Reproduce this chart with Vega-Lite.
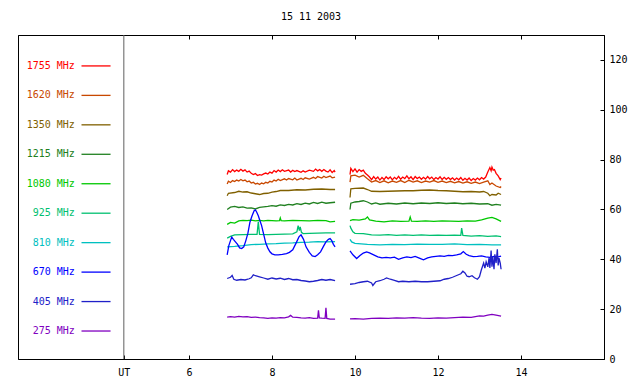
{
"$schema":"https://vega.github.io/schema/vega-lite/v6.json",
"width":586,"height":324,
"autosize":{"type":"none"},
"padding":{"left":18,"top":35,"right":36,"bottom":25},
"background":"white",
"title":{"text":"15 11 2003","font":"DejaVu Sans Mono","fontSize":10,"fontWeight":"normal","color":"black","offset":13,"anchor":"middle"},
"config":{"view":{"stroke":"black","strokeWidth":1},"axis":{"labelFont":"DejaVu Sans Mono","labelFontSize":10,"labelColor":"black","domainColor":"black","tickColor":"black","grid":false,"title":null}},
"datasets":{
"freqs":[{"f":"1755 MHz"},{"f":"1620 MHz"},{"f":"1350 MHz"},{"f":"1215 MHz"},{"f":"1080 MHz"},{"f":"925 MHz"},{"f":"810 MHz"},{"f":"670 MHz"},{"f":"405 MHz"},{"f":"275 MHz"}],
"ut":[{"t":4.43}],
"series":[
{"f":"1755 MHz","s":1,"t":6.92,"v":74.0},{"f":"1755 MHz","s":1,"t":6.95,"v":75.5},{"f":"1755 MHz","s":1,"t":7.0,"v":75.0},{"f":"1755 MHz","s":1,"t":7.05,"v":76.0},{"f":"1755 MHz","s":1,"t":7.1,"v":75.2},{"f":"1755 MHz","s":1,"t":7.15,"v":75.8},{"f":"1755 MHz","s":1,"t":7.2,"v":75.3},{"f":"1755 MHz","s":1,"t":7.25,"v":76.1},{"f":"1755 MHz","s":1,"t":7.3,"v":75.4},{"f":"1755 MHz","s":1,"t":7.35,"v":75.9},{"f":"1755 MHz","s":1,"t":7.4,"v":75.0},{"f":"1755 MHz","s":1,"t":7.45,"v":75.4},{"f":"1755 MHz","s":1,"t":7.5,"v":74.5},{"f":"1755 MHz","s":1,"t":7.55,"v":74.0},{"f":"1755 MHz","s":1,"t":7.6,"v":74.4},{"f":"1755 MHz","s":1,"t":7.65,"v":73.6},{"f":"1755 MHz","s":1,"t":7.7,"v":74.0},{"f":"1755 MHz","s":1,"t":7.75,"v":73.8},{"f":"1755 MHz","s":1,"t":7.8,"v":74.3},{"f":"1755 MHz","s":1,"t":7.85,"v":74.6},{"f":"1755 MHz","s":1,"t":7.9,"v":74.2},{"f":"1755 MHz","s":1,"t":7.95,"v":75.0},{"f":"1755 MHz","s":1,"t":8.0,"v":74.6},{"f":"1755 MHz","s":1,"t":8.05,"v":75.6},{"f":"1755 MHz","s":1,"t":8.1,"v":75.0},{"f":"1755 MHz","s":1,"t":8.15,"v":75.8},{"f":"1755 MHz","s":1,"t":8.2,"v":75.2},{"f":"1755 MHz","s":1,"t":8.25,"v":75.9},{"f":"1755 MHz","s":1,"t":8.3,"v":75.3},{"f":"1755 MHz","s":1,"t":8.4,"v":75.8},{"f":"1755 MHz","s":1,"t":8.45,"v":75.0},{"f":"1755 MHz","s":1,"t":8.5,"v":75.7},{"f":"1755 MHz","s":1,"t":8.55,"v":75.2},{"f":"1755 MHz","s":1,"t":8.6,"v":75.6},{"f":"1755 MHz","s":1,"t":8.7,"v":74.9},{"f":"1755 MHz","s":1,"t":8.75,"v":75.5},{"f":"1755 MHz","s":1,"t":8.8,"v":75.0},{"f":"1755 MHz","s":1,"t":8.9,"v":75.8},{"f":"1755 MHz","s":1,"t":9.0,"v":75.3},{"f":"1755 MHz","s":1,"t":9.05,"v":76.2},{"f":"1755 MHz","s":1,"t":9.1,"v":75.5},{"f":"1755 MHz","s":1,"t":9.15,"v":76.0},{"f":"1755 MHz","s":1,"t":9.2,"v":75.3},{"f":"1755 MHz","s":1,"t":9.25,"v":76.0},{"f":"1755 MHz","s":1,"t":9.3,"v":75.4},{"f":"1755 MHz","s":1,"t":9.35,"v":75.0},{"f":"1755 MHz","s":1,"t":9.4,"v":75.9},{"f":"1755 MHz","s":1,"t":9.45,"v":74.8},{"f":"1755 MHz","s":1,"t":9.5,"v":75.6},{"f":"1755 MHz","s":1,"t":9.52,"v":75.0},
{"f":"1755 MHz","s":2,"t":9.88,"v":74.0},{"f":"1755 MHz","s":2,"t":9.9,"v":76.5},{"f":"1755 MHz","s":2,"t":9.95,"v":75.2},{"f":"1755 MHz","s":2,"t":10.0,"v":76.3},{"f":"1755 MHz","s":2,"t":10.05,"v":75.0},{"f":"1755 MHz","s":2,"t":10.1,"v":76.0},{"f":"1755 MHz","s":2,"t":10.15,"v":75.3},{"f":"1755 MHz","s":2,"t":10.2,"v":75.8},{"f":"1755 MHz","s":2,"t":10.25,"v":74.5},{"f":"1755 MHz","s":2,"t":10.3,"v":73.8},{"f":"1755 MHz","s":2,"t":10.35,"v":73.0},{"f":"1755 MHz","s":2,"t":10.4,"v":72.0},{"f":"1755 MHz","s":2,"t":10.45,"v":73.2},{"f":"1755 MHz","s":2,"t":10.5,"v":72.2},{"f":"1755 MHz","s":2,"t":10.55,"v":73.0},{"f":"1755 MHz","s":2,"t":10.6,"v":71.8},{"f":"1755 MHz","s":2,"t":10.65,"v":72.8},{"f":"1755 MHz","s":2,"t":10.7,"v":72.0},{"f":"1755 MHz","s":2,"t":10.75,"v":73.1},{"f":"1755 MHz","s":2,"t":10.8,"v":72.3},{"f":"1755 MHz","s":2,"t":10.85,"v":73.0},{"f":"1755 MHz","s":2,"t":10.9,"v":71.9},{"f":"1755 MHz","s":2,"t":10.95,"v":72.9},{"f":"1755 MHz","s":2,"t":11.0,"v":72.2},{"f":"1755 MHz","s":2,"t":11.05,"v":73.3},{"f":"1755 MHz","s":2,"t":11.1,"v":72.1},{"f":"1755 MHz","s":2,"t":11.15,"v":73.0},{"f":"1755 MHz","s":2,"t":11.2,"v":72.4},{"f":"1755 MHz","s":2,"t":11.25,"v":73.5},{"f":"1755 MHz","s":2,"t":11.3,"v":72.3},{"f":"1755 MHz","s":2,"t":11.35,"v":73.1},{"f":"1755 MHz","s":2,"t":11.4,"v":72.0},{"f":"1755 MHz","s":2,"t":11.45,"v":73.2},{"f":"1755 MHz","s":2,"t":11.5,"v":72.4},{"f":"1755 MHz","s":2,"t":11.55,"v":73.0},{"f":"1755 MHz","s":2,"t":11.6,"v":72.1},{"f":"1755 MHz","s":2,"t":11.65,"v":72.9},{"f":"1755 MHz","s":2,"t":11.7,"v":72.2},{"f":"1755 MHz","s":2,"t":11.75,"v":73.2},{"f":"1755 MHz","s":2,"t":11.8,"v":72.3},{"f":"1755 MHz","s":2,"t":11.85,"v":73.0},{"f":"1755 MHz","s":2,"t":11.9,"v":72.0},{"f":"1755 MHz","s":2,"t":11.95,"v":72.8},{"f":"1755 MHz","s":2,"t":12.0,"v":72.2},{"f":"1755 MHz","s":2,"t":12.05,"v":73.1},{"f":"1755 MHz","s":2,"t":12.1,"v":72.0},{"f":"1755 MHz","s":2,"t":12.15,"v":72.9},{"f":"1755 MHz","s":2,"t":12.2,"v":72.1},{"f":"1755 MHz","s":2,"t":12.25,"v":72.8},{"f":"1755 MHz","s":2,"t":12.3,"v":72.0},{"f":"1755 MHz","s":2,"t":12.35,"v":72.7},{"f":"1755 MHz","s":2,"t":12.4,"v":71.8},{"f":"1755 MHz","s":2,"t":12.45,"v":72.6},{"f":"1755 MHz","s":2,"t":12.5,"v":71.9},{"f":"1755 MHz","s":2,"t":12.55,"v":72.8},{"f":"1755 MHz","s":2,"t":12.6,"v":71.7},{"f":"1755 MHz","s":2,"t":12.65,"v":72.5},{"f":"1755 MHz","s":2,"t":12.7,"v":71.8},{"f":"1755 MHz","s":2,"t":12.75,"v":72.6},{"f":"1755 MHz","s":2,"t":12.8,"v":71.6},{"f":"1755 MHz","s":2,"t":12.85,"v":72.4},{"f":"1755 MHz","s":2,"t":12.9,"v":71.8},{"f":"1755 MHz","s":2,"t":12.95,"v":72.6},{"f":"1755 MHz","s":2,"t":13.0,"v":71.9},{"f":"1755 MHz","s":2,"t":13.05,"v":72.8},{"f":"1755 MHz","s":2,"t":13.1,"v":72.2},{"f":"1755 MHz","s":2,"t":13.15,"v":73.0},{"f":"1755 MHz","s":2,"t":13.2,"v":75.0},{"f":"1755 MHz","s":2,"t":13.25,"v":76.8},{"f":"1755 MHz","s":2,"t":13.28,"v":75.5},{"f":"1755 MHz","s":2,"t":13.3,"v":77.0},{"f":"1755 MHz","s":2,"t":13.33,"v":75.8},{"f":"1755 MHz","s":2,"t":13.36,"v":76.0},{"f":"1755 MHz","s":2,"t":13.4,"v":74.5},{"f":"1755 MHz","s":2,"t":13.45,"v":73.5},{"f":"1755 MHz","s":2,"t":13.5,"v":72.0},{"f":"1755 MHz","s":2,"t":13.52,"v":72.6},
{"f":"1620 MHz","s":1,"t":6.92,"v":70.2},{"f":"1620 MHz","s":1,"t":6.95,"v":71.3},{"f":"1620 MHz","s":1,"t":7.0,"v":70.8},{"f":"1620 MHz","s":1,"t":7.05,"v":71.6},{"f":"1620 MHz","s":1,"t":7.1,"v":71.2},{"f":"1620 MHz","s":1,"t":7.15,"v":71.8},{"f":"1620 MHz","s":1,"t":7.2,"v":71.4},{"f":"1620 MHz","s":1,"t":7.25,"v":72.0},{"f":"1620 MHz","s":1,"t":7.3,"v":71.5},{"f":"1620 MHz","s":1,"t":7.35,"v":71.8},{"f":"1620 MHz","s":1,"t":7.4,"v":71.1},{"f":"1620 MHz","s":1,"t":7.45,"v":71.4},{"f":"1620 MHz","s":1,"t":7.5,"v":70.6},{"f":"1620 MHz","s":1,"t":7.55,"v":70.9},{"f":"1620 MHz","s":1,"t":7.6,"v":70.2},{"f":"1620 MHz","s":1,"t":7.65,"v":70.5},{"f":"1620 MHz","s":1,"t":7.7,"v":70.0},{"f":"1620 MHz","s":1,"t":7.75,"v":70.6},{"f":"1620 MHz","s":1,"t":7.8,"v":70.3},{"f":"1620 MHz","s":1,"t":7.85,"v":70.9},{"f":"1620 MHz","s":1,"t":7.9,"v":70.6},{"f":"1620 MHz","s":1,"t":7.95,"v":71.3},{"f":"1620 MHz","s":1,"t":8.0,"v":71.0},{"f":"1620 MHz","s":1,"t":8.05,"v":71.8},{"f":"1620 MHz","s":1,"t":8.1,"v":71.4},{"f":"1620 MHz","s":1,"t":8.15,"v":72.1},{"f":"1620 MHz","s":1,"t":8.2,"v":71.6},{"f":"1620 MHz","s":1,"t":8.3,"v":72.3},{"f":"1620 MHz","s":1,"t":8.35,"v":71.8},{"f":"1620 MHz","s":1,"t":8.4,"v":72.4},{"f":"1620 MHz","s":1,"t":8.5,"v":71.9},{"f":"1620 MHz","s":1,"t":8.55,"v":72.6},{"f":"1620 MHz","s":1,"t":8.6,"v":71.8},{"f":"1620 MHz","s":1,"t":8.7,"v":72.5},{"f":"1620 MHz","s":1,"t":8.75,"v":72.0},{"f":"1620 MHz","s":1,"t":8.8,"v":72.7},{"f":"1620 MHz","s":1,"t":8.9,"v":72.2},{"f":"1620 MHz","s":1,"t":9.0,"v":72.9},{"f":"1620 MHz","s":1,"t":9.05,"v":72.4},{"f":"1620 MHz","s":1,"t":9.1,"v":73.2},{"f":"1620 MHz","s":1,"t":9.2,"v":72.6},{"f":"1620 MHz","s":1,"t":9.25,"v":73.3},{"f":"1620 MHz","s":1,"t":9.3,"v":72.8},{"f":"1620 MHz","s":1,"t":9.4,"v":73.4},{"f":"1620 MHz","s":1,"t":9.45,"v":72.7},{"f":"1620 MHz","s":1,"t":9.52,"v":73.0},
{"f":"1620 MHz","s":2,"t":9.88,"v":71.0},{"f":"1620 MHz","s":2,"t":9.9,"v":73.5},{"f":"1620 MHz","s":2,"t":10.0,"v":73.8},{"f":"1620 MHz","s":2,"t":10.1,"v":73.0},{"f":"1620 MHz","s":2,"t":10.2,"v":73.7},{"f":"1620 MHz","s":2,"t":10.3,"v":72.3},{"f":"1620 MHz","s":2,"t":10.4,"v":71.0},{"f":"1620 MHz","s":2,"t":10.5,"v":71.6},{"f":"1620 MHz","s":2,"t":10.6,"v":70.8},{"f":"1620 MHz","s":2,"t":10.7,"v":71.5},{"f":"1620 MHz","s":2,"t":10.8,"v":70.7},{"f":"1620 MHz","s":2,"t":10.9,"v":71.4},{"f":"1620 MHz","s":2,"t":11.0,"v":70.9},{"f":"1620 MHz","s":2,"t":11.1,"v":71.6},{"f":"1620 MHz","s":2,"t":11.2,"v":70.8},{"f":"1620 MHz","s":2,"t":11.3,"v":71.7},{"f":"1620 MHz","s":2,"t":11.4,"v":71.0},{"f":"1620 MHz","s":2,"t":11.5,"v":71.5},{"f":"1620 MHz","s":2,"t":11.6,"v":70.8},{"f":"1620 MHz","s":2,"t":11.7,"v":71.4},{"f":"1620 MHz","s":2,"t":11.8,"v":71.0},{"f":"1620 MHz","s":2,"t":11.9,"v":71.6},{"f":"1620 MHz","s":2,"t":12.0,"v":70.9},{"f":"1620 MHz","s":2,"t":12.1,"v":71.4},{"f":"1620 MHz","s":2,"t":12.2,"v":70.8},{"f":"1620 MHz","s":2,"t":12.3,"v":71.3},{"f":"1620 MHz","s":2,"t":12.4,"v":70.7},{"f":"1620 MHz","s":2,"t":12.5,"v":71.2},{"f":"1620 MHz","s":2,"t":12.6,"v":70.6},{"f":"1620 MHz","s":2,"t":12.7,"v":71.1},{"f":"1620 MHz","s":2,"t":12.8,"v":70.5},{"f":"1620 MHz","s":2,"t":12.9,"v":71.0},{"f":"1620 MHz","s":2,"t":13.0,"v":70.4},{"f":"1620 MHz","s":2,"t":13.1,"v":71.0},{"f":"1620 MHz","s":2,"t":13.2,"v":71.5},{"f":"1620 MHz","s":2,"t":13.25,"v":70.0},{"f":"1620 MHz","s":2,"t":13.3,"v":70.6},{"f":"1620 MHz","s":2,"t":13.4,"v":69.4},{"f":"1620 MHz","s":2,"t":13.5,"v":68.8},{"f":"1620 MHz","s":2,"t":13.52,"v":69.2},
{"f":"1350 MHz","s":1,"t":6.92,"v":65.5},{"f":"1350 MHz","s":1,"t":6.95,"v":66.5},{"f":"1350 MHz","s":1,"t":7.1,"v":66.8},{"f":"1350 MHz","s":1,"t":7.2,"v":67.3},{"f":"1350 MHz","s":1,"t":7.3,"v":67.0},{"f":"1350 MHz","s":1,"t":7.4,"v":67.1},{"f":"1350 MHz","s":1,"t":7.5,"v":66.6},{"f":"1350 MHz","s":1,"t":7.6,"v":66.3},{"f":"1350 MHz","s":1,"t":7.7,"v":66.0},{"f":"1350 MHz","s":1,"t":7.8,"v":66.4},{"f":"1350 MHz","s":1,"t":7.9,"v":66.5},{"f":"1350 MHz","s":1,"t":8.0,"v":67.0},{"f":"1350 MHz","s":1,"t":8.1,"v":67.2},{"f":"1350 MHz","s":1,"t":8.2,"v":67.6},{"f":"1350 MHz","s":1,"t":8.4,"v":67.6},{"f":"1350 MHz","s":1,"t":8.6,"v":67.9},{"f":"1350 MHz","s":1,"t":8.8,"v":67.8},{"f":"1350 MHz","s":1,"t":9.0,"v":68.1},{"f":"1350 MHz","s":1,"t":9.2,"v":68.2},{"f":"1350 MHz","s":1,"t":9.4,"v":68.0},{"f":"1350 MHz","s":1,"t":9.52,"v":68.0},
{"f":"1350 MHz","s":2,"t":9.88,"v":64.8},{"f":"1350 MHz","s":2,"t":9.9,"v":68.3},{"f":"1350 MHz","s":2,"t":10.0,"v":68.5},{"f":"1350 MHz","s":2,"t":10.2,"v":68.6},{"f":"1350 MHz","s":2,"t":10.3,"v":68.0},{"f":"1350 MHz","s":2,"t":10.4,"v":67.3},{"f":"1350 MHz","s":2,"t":10.6,"v":67.2},{"f":"1350 MHz","s":2,"t":10.8,"v":67.3},{"f":"1350 MHz","s":2,"t":11.0,"v":67.4},{"f":"1350 MHz","s":2,"t":11.2,"v":67.5},{"f":"1350 MHz","s":2,"t":11.4,"v":67.5},{"f":"1350 MHz","s":2,"t":11.6,"v":67.7},{"f":"1350 MHz","s":2,"t":11.8,"v":67.8},{"f":"1350 MHz","s":2,"t":12.0,"v":67.6},{"f":"1350 MHz","s":2,"t":12.2,"v":67.5},{"f":"1350 MHz","s":2,"t":12.4,"v":67.3},{"f":"1350 MHz","s":2,"t":12.6,"v":67.1},{"f":"1350 MHz","s":2,"t":12.8,"v":67.2},{"f":"1350 MHz","s":2,"t":13.0,"v":67.0},{"f":"1350 MHz","s":2,"t":13.1,"v":67.2},{"f":"1350 MHz","s":2,"t":13.2,"v":66.5},{"f":"1350 MHz","s":2,"t":13.25,"v":65.5},{"f":"1350 MHz","s":2,"t":13.3,"v":66.0},{"f":"1350 MHz","s":2,"t":13.4,"v":65.8},{"f":"1350 MHz","s":2,"t":13.45,"v":66.5},{"f":"1350 MHz","s":2,"t":13.52,"v":66.0},
{"f":"1215 MHz","s":1,"t":6.92,"v":60.0},{"f":"1215 MHz","s":1,"t":7.0,"v":60.9},{"f":"1215 MHz","s":1,"t":7.1,"v":61.2},{"f":"1215 MHz","s":1,"t":7.2,"v":60.8},{"f":"1215 MHz","s":1,"t":7.3,"v":61.0},{"f":"1215 MHz","s":1,"t":7.4,"v":60.5},{"f":"1215 MHz","s":1,"t":7.5,"v":60.6},{"f":"1215 MHz","s":1,"t":7.6,"v":60.2},{"f":"1215 MHz","s":1,"t":7.7,"v":60.8},{"f":"1215 MHz","s":1,"t":7.8,"v":61.0},{"f":"1215 MHz","s":1,"t":7.9,"v":61.2},{"f":"1215 MHz","s":1,"t":8.0,"v":61.5},{"f":"1215 MHz","s":1,"t":8.1,"v":61.3},{"f":"1215 MHz","s":1,"t":8.2,"v":61.8},{"f":"1215 MHz","s":1,"t":8.3,"v":61.6},{"f":"1215 MHz","s":1,"t":8.4,"v":62.0},{"f":"1215 MHz","s":1,"t":8.5,"v":61.8},{"f":"1215 MHz","s":1,"t":8.6,"v":62.3},{"f":"1215 MHz","s":1,"t":8.7,"v":62.0},{"f":"1215 MHz","s":1,"t":8.8,"v":62.5},{"f":"1215 MHz","s":1,"t":8.9,"v":62.2},{"f":"1215 MHz","s":1,"t":9.0,"v":62.8},{"f":"1215 MHz","s":1,"t":9.1,"v":62.4},{"f":"1215 MHz","s":1,"t":9.2,"v":62.9},{"f":"1215 MHz","s":1,"t":9.3,"v":62.5},{"f":"1215 MHz","s":1,"t":9.4,"v":62.7},{"f":"1215 MHz","s":1,"t":9.52,"v":62.9},
{"f":"1215 MHz","s":2,"t":9.88,"v":60.0},{"f":"1215 MHz","s":2,"t":9.9,"v":62.5},{"f":"1215 MHz","s":2,"t":10.0,"v":63.0},{"f":"1215 MHz","s":2,"t":10.1,"v":63.2},{"f":"1215 MHz","s":2,"t":10.2,"v":63.5},{"f":"1215 MHz","s":2,"t":10.3,"v":63.0},{"f":"1215 MHz","s":2,"t":10.4,"v":62.2},{"f":"1215 MHz","s":2,"t":10.5,"v":62.6},{"f":"1215 MHz","s":2,"t":10.6,"v":62.1},{"f":"1215 MHz","s":2,"t":10.8,"v":62.5},{"f":"1215 MHz","s":2,"t":11.0,"v":62.2},{"f":"1215 MHz","s":2,"t":11.2,"v":62.6},{"f":"1215 MHz","s":2,"t":11.4,"v":62.3},{"f":"1215 MHz","s":2,"t":11.6,"v":62.6},{"f":"1215 MHz","s":2,"t":11.8,"v":62.4},{"f":"1215 MHz","s":2,"t":12.0,"v":62.7},{"f":"1215 MHz","s":2,"t":12.2,"v":62.4},{"f":"1215 MHz","s":2,"t":12.4,"v":62.6},{"f":"1215 MHz","s":2,"t":12.6,"v":62.3},{"f":"1215 MHz","s":2,"t":12.8,"v":62.5},{"f":"1215 MHz","s":2,"t":13.0,"v":62.2},{"f":"1215 MHz","s":2,"t":13.2,"v":62.3},{"f":"1215 MHz","s":2,"t":13.3,"v":61.7},{"f":"1215 MHz","s":2,"t":13.4,"v":62.0},{"f":"1215 MHz","s":2,"t":13.52,"v":61.7},
{"f":"1080 MHz","s":1,"t":6.92,"v":54.0},{"f":"1080 MHz","s":1,"t":7.0,"v":54.8},{"f":"1080 MHz","s":1,"t":7.1,"v":54.5},{"f":"1080 MHz","s":1,"t":7.2,"v":55.4},{"f":"1080 MHz","s":1,"t":7.3,"v":55.6},{"f":"1080 MHz","s":1,"t":7.4,"v":55.5},{"f":"1080 MHz","s":1,"t":7.5,"v":55.7},{"f":"1080 MHz","s":1,"t":7.6,"v":55.4},{"f":"1080 MHz","s":1,"t":7.7,"v":55.6},{"f":"1080 MHz","s":1,"t":7.8,"v":55.4},{"f":"1080 MHz","s":1,"t":7.9,"v":55.6},{"f":"1080 MHz","s":1,"t":8.0,"v":55.5},{"f":"1080 MHz","s":1,"t":8.1,"v":55.4},{"f":"1080 MHz","s":1,"t":8.18,"v":55.5},{"f":"1080 MHz","s":1,"t":8.2,"v":56.6},{"f":"1080 MHz","s":1,"t":8.22,"v":55.5},{"f":"1080 MHz","s":1,"t":8.3,"v":55.4},{"f":"1080 MHz","s":1,"t":8.5,"v":55.6},{"f":"1080 MHz","s":1,"t":8.7,"v":55.5},{"f":"1080 MHz","s":1,"t":8.9,"v":55.4},{"f":"1080 MHz","s":1,"t":9.1,"v":55.6},{"f":"1080 MHz","s":1,"t":9.3,"v":55.5},{"f":"1080 MHz","s":1,"t":9.4,"v":55.0},{"f":"1080 MHz","s":1,"t":9.52,"v":55.2},
{"f":"1080 MHz","s":2,"t":9.88,"v":55.5},{"f":"1080 MHz","s":2,"t":9.95,"v":55.9},{"f":"1080 MHz","s":2,"t":10.1,"v":55.7},{"f":"1080 MHz","s":2,"t":10.25,"v":56.2},{"f":"1080 MHz","s":2,"t":10.3,"v":57.0},{"f":"1080 MHz","s":2,"t":10.35,"v":55.8},{"f":"1080 MHz","s":2,"t":10.5,"v":55.3},{"f":"1080 MHz","s":2,"t":10.7,"v":55.0},{"f":"1080 MHz","s":2,"t":10.9,"v":55.4},{"f":"1080 MHz","s":2,"t":11.1,"v":55.2},{"f":"1080 MHz","s":2,"t":11.3,"v":55.3},{"f":"1080 MHz","s":2,"t":11.33,"v":57.0},{"f":"1080 MHz","s":2,"t":11.36,"v":55.3},{"f":"1080 MHz","s":2,"t":11.5,"v":55.2},{"f":"1080 MHz","s":2,"t":11.7,"v":55.4},{"f":"1080 MHz","s":2,"t":11.9,"v":55.2},{"f":"1080 MHz","s":2,"t":12.1,"v":55.4},{"f":"1080 MHz","s":2,"t":12.3,"v":55.3},{"f":"1080 MHz","s":2,"t":12.5,"v":55.2},{"f":"1080 MHz","s":2,"t":12.7,"v":55.4},{"f":"1080 MHz","s":2,"t":12.9,"v":55.3},{"f":"1080 MHz","s":2,"t":13.05,"v":55.8},{"f":"1080 MHz","s":2,"t":13.2,"v":56.5},{"f":"1080 MHz","s":2,"t":13.3,"v":56.8},{"f":"1080 MHz","s":2,"t":13.4,"v":56.2},{"f":"1080 MHz","s":2,"t":13.52,"v":55.2},
{"f":"925 MHz","s":1,"t":6.92,"v":48.5},{"f":"925 MHz","s":1,"t":7.0,"v":49.2},{"f":"925 MHz","s":1,"t":7.1,"v":49.8},{"f":"925 MHz","s":1,"t":7.3,"v":49.9},{"f":"925 MHz","s":1,"t":7.5,"v":50.0},{"f":"925 MHz","s":1,"t":7.64,"v":50.0},{"f":"925 MHz","s":1,"t":7.67,"v":55.0},{"f":"925 MHz","s":1,"t":7.7,"v":50.0},{"f":"925 MHz","s":1,"t":7.9,"v":49.9},{"f":"925 MHz","s":1,"t":8.1,"v":50.0},{"f":"925 MHz","s":1,"t":8.3,"v":50.1},{"f":"925 MHz","s":1,"t":8.5,"v":50.2},{"f":"925 MHz","s":1,"t":8.6,"v":51.0},{"f":"925 MHz","s":1,"t":8.63,"v":53.5},{"f":"925 MHz","s":1,"t":8.66,"v":51.5},{"f":"925 MHz","s":1,"t":8.68,"v":53.0},{"f":"925 MHz","s":1,"t":8.71,"v":50.8},{"f":"925 MHz","s":1,"t":8.75,"v":50.3},{"f":"925 MHz","s":1,"t":8.9,"v":50.4},{"f":"925 MHz","s":1,"t":9.1,"v":50.5},{"f":"925 MHz","s":1,"t":9.3,"v":50.6},{"f":"925 MHz","s":1,"t":9.52,"v":50.6},
{"f":"925 MHz","s":2,"t":9.88,"v":53.5},{"f":"925 MHz","s":2,"t":9.9,"v":52.5},{"f":"925 MHz","s":2,"t":9.95,"v":51.0},{"f":"925 MHz","s":2,"t":10.0,"v":50.4},{"f":"925 MHz","s":2,"t":10.2,"v":50.3},{"f":"925 MHz","s":2,"t":10.4,"v":49.8},{"f":"925 MHz","s":2,"t":10.6,"v":49.7},{"f":"925 MHz","s":2,"t":10.8,"v":49.9},{"f":"925 MHz","s":2,"t":11.0,"v":49.6},{"f":"925 MHz","s":2,"t":11.2,"v":49.8},{"f":"925 MHz","s":2,"t":11.4,"v":49.6},{"f":"925 MHz","s":2,"t":11.6,"v":49.8},{"f":"925 MHz","s":2,"t":11.8,"v":49.6},{"f":"925 MHz","s":2,"t":12.0,"v":49.7},{"f":"925 MHz","s":2,"t":12.2,"v":49.6},{"f":"925 MHz","s":2,"t":12.4,"v":49.7},{"f":"925 MHz","s":2,"t":12.55,"v":49.6},{"f":"925 MHz","s":2,"t":12.57,"v":52.5},{"f":"925 MHz","s":2,"t":12.6,"v":49.6},{"f":"925 MHz","s":2,"t":12.8,"v":49.3},{"f":"925 MHz","s":2,"t":13.0,"v":49.5},{"f":"925 MHz","s":2,"t":13.2,"v":49.2},{"f":"925 MHz","s":2,"t":13.4,"v":49.4},{"f":"925 MHz","s":2,"t":13.52,"v":49.1},
{"f":"810 MHz","s":1,"t":6.92,"v":45.0},{"f":"810 MHz","s":1,"t":7.1,"v":45.2},{"f":"810 MHz","s":1,"t":7.3,"v":45.5},{"f":"810 MHz","s":1,"t":7.5,"v":45.9},{"f":"810 MHz","s":1,"t":7.7,"v":46.0},{"f":"810 MHz","s":1,"t":7.9,"v":46.2},{"f":"810 MHz","s":1,"t":8.1,"v":46.3},{"f":"810 MHz","s":1,"t":8.3,"v":46.5},{"f":"810 MHz","s":1,"t":8.5,"v":46.6},{"f":"810 MHz","s":1,"t":8.7,"v":46.8},{"f":"810 MHz","s":1,"t":8.9,"v":46.9},{"f":"810 MHz","s":1,"t":9.1,"v":47.1},{"f":"810 MHz","s":1,"t":9.3,"v":47.0},{"f":"810 MHz","s":1,"t":9.52,"v":47.1},
{"f":"810 MHz","s":2,"t":9.88,"v":48.0},{"f":"810 MHz","s":2,"t":9.92,"v":47.0},{"f":"810 MHz","s":2,"t":10.0,"v":46.4},{"f":"810 MHz","s":2,"t":10.3,"v":46.0},{"f":"810 MHz","s":2,"t":10.6,"v":45.8},{"f":"810 MHz","s":2,"t":10.9,"v":46.0},{"f":"810 MHz","s":2,"t":11.2,"v":45.9},{"f":"810 MHz","s":2,"t":11.5,"v":46.1},{"f":"810 MHz","s":2,"t":11.8,"v":46.0},{"f":"810 MHz","s":2,"t":12.1,"v":46.0},{"f":"810 MHz","s":2,"t":12.4,"v":46.2},{"f":"810 MHz","s":2,"t":12.7,"v":45.9},{"f":"810 MHz","s":2,"t":13.0,"v":46.0},{"f":"810 MHz","s":2,"t":13.3,"v":45.8},{"f":"810 MHz","s":2,"t":13.52,"v":45.8},
{"f":"670 MHz","s":1,"t":6.92,"v":41.8},{"f":"670 MHz","s":1,"t":6.96,"v":45.5},{"f":"670 MHz","s":1,"t":7.0,"v":47.5},{"f":"670 MHz","s":1,"t":7.03,"v":48.9},{"f":"670 MHz","s":1,"t":7.07,"v":48.0},{"f":"670 MHz","s":1,"t":7.12,"v":47.0},{"f":"670 MHz","s":1,"t":7.17,"v":46.0},{"f":"670 MHz","s":1,"t":7.22,"v":44.6},{"f":"670 MHz","s":1,"t":7.27,"v":44.3},{"f":"670 MHz","s":1,"t":7.32,"v":45.0},{"f":"670 MHz","s":1,"t":7.37,"v":47.5},{"f":"670 MHz","s":1,"t":7.42,"v":50.5},{"f":"670 MHz","s":1,"t":7.47,"v":55.0},{"f":"670 MHz","s":1,"t":7.52,"v":57.5},{"f":"670 MHz","s":1,"t":7.57,"v":59.5},{"f":"670 MHz","s":1,"t":7.6,"v":59.8},{"f":"670 MHz","s":1,"t":7.63,"v":59.0},{"f":"670 MHz","s":1,"t":7.67,"v":57.5},{"f":"670 MHz","s":1,"t":7.71,"v":55.5},{"f":"670 MHz","s":1,"t":7.75,"v":53.5},{"f":"670 MHz","s":1,"t":7.8,"v":50.0},{"f":"670 MHz","s":1,"t":7.85,"v":46.5},{"f":"670 MHz","s":1,"t":7.9,"v":44.5},{"f":"670 MHz","s":1,"t":7.95,"v":43.0},{"f":"670 MHz","s":1,"t":8.0,"v":42.2},{"f":"670 MHz","s":1,"t":8.07,"v":41.8},{"f":"670 MHz","s":1,"t":8.15,"v":41.8},{"f":"670 MHz","s":1,"t":8.25,"v":42.0},{"f":"670 MHz","s":1,"t":8.35,"v":42.3},{"f":"670 MHz","s":1,"t":8.42,"v":42.8},{"f":"670 MHz","s":1,"t":8.5,"v":43.8},{"f":"670 MHz","s":1,"t":8.58,"v":46.5},{"f":"670 MHz","s":1,"t":8.65,"v":49.0},{"f":"670 MHz","s":1,"t":8.7,"v":49.8},{"f":"670 MHz","s":1,"t":8.76,"v":48.0},{"f":"670 MHz","s":1,"t":8.82,"v":45.0},{"f":"670 MHz","s":1,"t":8.9,"v":42.8},{"f":"670 MHz","s":1,"t":8.97,"v":41.4},{"f":"670 MHz","s":1,"t":9.04,"v":41.1},{"f":"670 MHz","s":1,"t":9.1,"v":41.8},{"f":"670 MHz","s":1,"t":9.17,"v":43.0},{"f":"670 MHz","s":1,"t":9.24,"v":45.2},{"f":"670 MHz","s":1,"t":9.3,"v":47.0},{"f":"670 MHz","s":1,"t":9.36,"v":48.0},{"f":"670 MHz","s":1,"t":9.4,"v":48.3},{"f":"670 MHz","s":1,"t":9.44,"v":47.5},{"f":"670 MHz","s":1,"t":9.48,"v":46.0},{"f":"670 MHz","s":1,"t":9.52,"v":45.0},
{"f":"670 MHz","s":2,"t":9.88,"v":43.4},{"f":"670 MHz","s":2,"t":9.95,"v":41.8},{"f":"670 MHz","s":2,"t":10.04,"v":40.3},{"f":"670 MHz","s":2,"t":10.12,"v":41.5},{"f":"670 MHz","s":2,"t":10.2,"v":42.5},{"f":"670 MHz","s":2,"t":10.28,"v":43.0},{"f":"670 MHz","s":2,"t":10.35,"v":42.6},{"f":"670 MHz","s":2,"t":10.45,"v":41.8},{"f":"670 MHz","s":2,"t":10.55,"v":41.0},{"f":"670 MHz","s":2,"t":10.65,"v":40.6},{"f":"670 MHz","s":2,"t":10.75,"v":40.8},{"f":"670 MHz","s":2,"t":10.85,"v":40.6},{"f":"670 MHz","s":2,"t":10.95,"v":40.9},{"f":"670 MHz","s":2,"t":11.05,"v":40.0},{"f":"670 MHz","s":2,"t":11.15,"v":40.6},{"f":"670 MHz","s":2,"t":11.25,"v":41.0},{"f":"670 MHz","s":2,"t":11.35,"v":40.7},{"f":"670 MHz","s":2,"t":11.45,"v":41.2},{"f":"670 MHz","s":2,"t":11.55,"v":40.5},{"f":"670 MHz","s":2,"t":11.65,"v":39.8},{"f":"670 MHz","s":2,"t":11.75,"v":40.6},{"f":"670 MHz","s":2,"t":11.85,"v":41.0},{"f":"670 MHz","s":2,"t":11.95,"v":41.2},{"f":"670 MHz","s":2,"t":12.05,"v":41.4},{"f":"670 MHz","s":2,"t":12.15,"v":41.2},{"f":"670 MHz","s":2,"t":12.25,"v":41.6},{"f":"670 MHz","s":2,"t":12.35,"v":41.5},{"f":"670 MHz","s":2,"t":12.45,"v":41.8},{"f":"670 MHz","s":2,"t":12.55,"v":42.2},{"f":"670 MHz","s":2,"t":12.61,"v":43.1},{"f":"670 MHz","s":2,"t":12.68,"v":42.0},{"f":"670 MHz","s":2,"t":12.75,"v":41.5},{"f":"670 MHz","s":2,"t":12.85,"v":41.1},{"f":"670 MHz","s":2,"t":12.95,"v":41.2},{"f":"670 MHz","s":2,"t":13.05,"v":41.4},{"f":"670 MHz","s":2,"t":13.15,"v":41.0},{"f":"670 MHz","s":2,"t":13.25,"v":40.8},{"f":"670 MHz","s":2,"t":13.35,"v":41.2},{"f":"670 MHz","s":2,"t":13.45,"v":41.0},{"f":"670 MHz","s":2,"t":13.52,"v":41.3},
{"f":"405 MHz","s":1,"t":6.92,"v":32.3},{"f":"405 MHz","s":1,"t":7.0,"v":32.8},{"f":"405 MHz","s":1,"t":7.04,"v":33.5},{"f":"405 MHz","s":1,"t":7.08,"v":32.0},{"f":"405 MHz","s":1,"t":7.15,"v":31.6},{"f":"405 MHz","s":1,"t":7.25,"v":31.9},{"f":"405 MHz","s":1,"t":7.35,"v":31.7},{"f":"405 MHz","s":1,"t":7.45,"v":32.2},{"f":"405 MHz","s":1,"t":7.5,"v":32.6},{"f":"405 MHz","s":1,"t":7.55,"v":33.8},{"f":"405 MHz","s":1,"t":7.6,"v":33.4},{"f":"405 MHz","s":1,"t":7.7,"v":33.0},{"f":"405 MHz","s":1,"t":7.8,"v":32.5},{"f":"405 MHz","s":1,"t":7.9,"v":32.0},{"f":"405 MHz","s":1,"t":8.0,"v":32.5},{"f":"405 MHz","s":1,"t":8.1,"v":32.1},{"f":"405 MHz","s":1,"t":8.2,"v":32.4},{"f":"405 MHz","s":1,"t":8.3,"v":31.9},{"f":"405 MHz","s":1,"t":8.4,"v":32.3},{"f":"405 MHz","s":1,"t":8.5,"v":31.8},{"f":"405 MHz","s":1,"t":8.6,"v":31.9},{"f":"405 MHz","s":1,"t":8.7,"v":31.5},{"f":"405 MHz","s":1,"t":8.8,"v":31.3},{"f":"405 MHz","s":1,"t":8.9,"v":31.0},{"f":"405 MHz","s":1,"t":9.0,"v":31.2},{"f":"405 MHz","s":1,"t":9.1,"v":31.5},{"f":"405 MHz","s":1,"t":9.2,"v":31.9},{"f":"405 MHz","s":1,"t":9.3,"v":31.6},{"f":"405 MHz","s":1,"t":9.4,"v":31.9},{"f":"405 MHz","s":1,"t":9.52,"v":31.4},
{"f":"405 MHz","s":2,"t":9.88,"v":30.0},{"f":"405 MHz","s":2,"t":10.0,"v":30.2},{"f":"405 MHz","s":2,"t":10.1,"v":30.7},{"f":"405 MHz","s":2,"t":10.2,"v":31.0},{"f":"405 MHz","s":2,"t":10.3,"v":31.2},{"f":"405 MHz","s":2,"t":10.4,"v":30.5},{"f":"405 MHz","s":2,"t":10.43,"v":29.5},{"f":"405 MHz","s":2,"t":10.5,"v":31.0},{"f":"405 MHz","s":2,"t":10.6,"v":31.4},{"f":"405 MHz","s":2,"t":10.7,"v":32.0},{"f":"405 MHz","s":2,"t":10.76,"v":32.5},{"f":"405 MHz","s":2,"t":10.85,"v":32.0},{"f":"405 MHz","s":2,"t":10.95,"v":31.5},{"f":"405 MHz","s":2,"t":11.05,"v":31.0},{"f":"405 MHz","s":2,"t":11.15,"v":31.2},{"f":"405 MHz","s":2,"t":11.3,"v":31.0},{"f":"405 MHz","s":2,"t":11.45,"v":31.2},{"f":"405 MHz","s":2,"t":11.6,"v":31.0},{"f":"405 MHz","s":2,"t":11.75,"v":31.0},{"f":"405 MHz","s":2,"t":11.9,"v":31.2},{"f":"405 MHz","s":2,"t":12.05,"v":31.4},{"f":"405 MHz","s":2,"t":12.15,"v":32.0},{"f":"405 MHz","s":2,"t":12.25,"v":32.3},{"f":"405 MHz","s":2,"t":12.35,"v":32.8},{"f":"405 MHz","s":2,"t":12.45,"v":33.5},{"f":"405 MHz","s":2,"t":12.55,"v":34.2},{"f":"405 MHz","s":2,"t":12.6,"v":35.2},{"f":"405 MHz","s":2,"t":12.65,"v":34.5},{"f":"405 MHz","s":2,"t":12.7,"v":33.2},{"f":"405 MHz","s":2,"t":12.75,"v":33.0},{"f":"405 MHz","s":2,"t":12.82,"v":33.4},{"f":"405 MHz","s":2,"t":12.88,"v":32.6},{"f":"405 MHz","s":2,"t":12.95,"v":32.0},{"f":"405 MHz","s":2,"t":13.0,"v":33.0},{"f":"405 MHz","s":2,"t":13.04,"v":35.5},{"f":"405 MHz","s":2,"t":13.08,"v":37.5},{"f":"405 MHz","s":2,"t":13.1,"v":38.5},{"f":"405 MHz","s":2,"t":13.13,"v":36.5},{"f":"405 MHz","s":2,"t":13.16,"v":39.0},{"f":"405 MHz","s":2,"t":13.2,"v":37.0},{"f":"405 MHz","s":2,"t":13.23,"v":40.5},{"f":"405 MHz","s":2,"t":13.25,"v":36.5},{"f":"405 MHz","s":2,"t":13.28,"v":43.5},{"f":"405 MHz","s":2,"t":13.3,"v":37.0},{"f":"405 MHz","s":2,"t":13.32,"v":41.0},{"f":"405 MHz","s":2,"t":13.35,"v":36.0},{"f":"405 MHz","s":2,"t":13.37,"v":42.0},{"f":"405 MHz","s":2,"t":13.4,"v":38.5},{"f":"405 MHz","s":2,"t":13.43,"v":44.0},{"f":"405 MHz","s":2,"t":13.45,"v":37.5},{"f":"405 MHz","s":2,"t":13.47,"v":40.5},{"f":"405 MHz","s":2,"t":13.5,"v":38.5},{"f":"405 MHz","s":2,"t":13.52,"v":36.0},
{"f":"275 MHz","s":1,"t":6.92,"v":16.8},{"f":"275 MHz","s":1,"t":7.0,"v":17.0},{"f":"275 MHz","s":1,"t":7.1,"v":16.8},{"f":"275 MHz","s":1,"t":7.2,"v":17.1},{"f":"275 MHz","s":1,"t":7.3,"v":16.9},{"f":"275 MHz","s":1,"t":7.4,"v":17.0},{"f":"275 MHz","s":1,"t":7.5,"v":16.7},{"f":"275 MHz","s":1,"t":7.6,"v":16.8},{"f":"275 MHz","s":1,"t":7.7,"v":16.6},{"f":"275 MHz","s":1,"t":7.8,"v":16.5},{"f":"275 MHz","s":1,"t":7.9,"v":16.3},{"f":"275 MHz","s":1,"t":8.0,"v":16.5},{"f":"275 MHz","s":1,"t":8.1,"v":16.4},{"f":"275 MHz","s":1,"t":8.2,"v":16.6},{"f":"275 MHz","s":1,"t":8.3,"v":16.5},{"f":"275 MHz","s":1,"t":8.4,"v":16.9},{"f":"275 MHz","s":1,"t":8.45,"v":17.5},{"f":"275 MHz","s":1,"t":8.5,"v":16.8},{"f":"275 MHz","s":1,"t":8.6,"v":16.7},{"f":"275 MHz","s":1,"t":8.7,"v":16.5},{"f":"275 MHz","s":1,"t":8.8,"v":16.4},{"f":"275 MHz","s":1,"t":8.9,"v":16.6},{"f":"275 MHz","s":1,"t":9.0,"v":16.3},{"f":"275 MHz","s":1,"t":9.1,"v":16.4},{"f":"275 MHz","s":1,"t":9.12,"v":19.5},{"f":"275 MHz","s":1,"t":9.14,"v":16.5},{"f":"275 MHz","s":1,"t":9.2,"v":16.4},{"f":"275 MHz","s":1,"t":9.28,"v":16.3},{"f":"275 MHz","s":1,"t":9.3,"v":20.5},{"f":"275 MHz","s":1,"t":9.32,"v":16.3},{"f":"275 MHz","s":1,"t":9.4,"v":16.0},{"f":"275 MHz","s":1,"t":9.52,"v":16.0},
{"f":"275 MHz","s":2,"t":9.88,"v":16.1},{"f":"275 MHz","s":2,"t":10.0,"v":16.2},{"f":"275 MHz","s":2,"t":10.2,"v":16.0},{"f":"275 MHz","s":2,"t":10.4,"v":16.3},{"f":"275 MHz","s":2,"t":10.6,"v":16.4},{"f":"275 MHz","s":2,"t":10.8,"v":16.3},{"f":"275 MHz","s":2,"t":11.0,"v":16.5},{"f":"275 MHz","s":2,"t":11.2,"v":16.4},{"f":"275 MHz","s":2,"t":11.4,"v":16.6},{"f":"275 MHz","s":2,"t":11.6,"v":16.4},{"f":"275 MHz","s":2,"t":11.8,"v":16.3},{"f":"275 MHz","s":2,"t":12.0,"v":16.5},{"f":"275 MHz","s":2,"t":12.2,"v":16.4},{"f":"275 MHz","s":2,"t":12.4,"v":16.6},{"f":"275 MHz","s":2,"t":12.6,"v":16.8},{"f":"275 MHz","s":2,"t":12.8,"v":16.7},{"f":"275 MHz","s":2,"t":12.9,"v":17.0},{"f":"275 MHz","s":2,"t":13.0,"v":17.3},{"f":"275 MHz","s":2,"t":13.1,"v":17.2},{"f":"275 MHz","s":2,"t":13.2,"v":17.6},{"f":"275 MHz","s":2,"t":13.3,"v":17.9},{"f":"275 MHz","s":2,"t":13.4,"v":17.6},{"f":"275 MHz","s":2,"t":13.52,"v":17.2}
]},
"resolve":{"scale":{"y":"independent"}},
"layer":[
{"data":{"name":"ut"},"mark":{"type":"rule","color":"#606060","strokeWidth":1},
 "encoding":{"x":{"field":"t","type":"quantitative","scale":{"domain":[1.88,16],"nice":false,"zero":false},
   "axis":{"orient":"top","values":[6,8,10,12,14],"labels":false,"tickSize":-4,"domain":true}}}},
{"data":{"name":"series"},"mark":{"type":"line","strokeWidth":1.3,"interpolate":"linear"},
 "encoding":{
  "x":{"field":"t","type":"quantitative","scale":{"domain":[1.88,16],"nice":false,"zero":false},
   "axis":{"orient":"bottom","values":[4.43,6,8,10,12,14],"labelExpr":"datum.value < 5 ? 'UT' : datum.label","tickSize":-4,"labelPadding":12}},
  "y":{"field":"v","type":"quantitative","scale":{"domain":[0,130],"nice":false,"zero":false},
   "axis":{"orient":"right","values":[0,20,40,60,80,100,120],"tickSize":-4,"labelPadding":9}},
  "color":{"field":"f","type":"nominal","legend":null,
   "scale":{"domain":["1755 MHz","1620 MHz","1350 MHz","1215 MHz","1080 MHz","925 MHz","810 MHz","670 MHz","405 MHz","275 MHz"],
    "range":["#ff0000","#c84800","#806000","#208020","#00c800","#00c070","#00c0c0","#0000ff","#2020c8","#8000c0"]}},
  "detail":{"field":"s","type":"nominal"},
  "order":{"field":"t","type":"quantitative"}}},
{"data":{"name":"freqs"},"mark":{"type":"rule","strokeWidth":1.3},
 "encoding":{
  "x":{"datum":3.41,"type":"quantitative","axis":null},"x2":{"datum":4.11},
  "y":{"field":"f","type":"nominal","sort":null,"axis":null,"scale":{"type":"point","padding":1.04,"align":0.525}},
  "color":{"field":"f","type":"nominal","legend":null}}},
{"data":{"name":"freqs"},"mark":{"type":"text","align":"right","baseline":"middle","font":"DejaVu Sans Mono","fontSize":10},
 "encoding":{
  "x":{"datum":3.25,"type":"quantitative","axis":null},
  "y":{"field":"f","type":"nominal","sort":null,"axis":null,"scale":{"type":"point","padding":1.04,"align":0.525}},
  "text":{"field":"f"},
  "color":{"field":"f","type":"nominal","legend":null}}}
]
}
